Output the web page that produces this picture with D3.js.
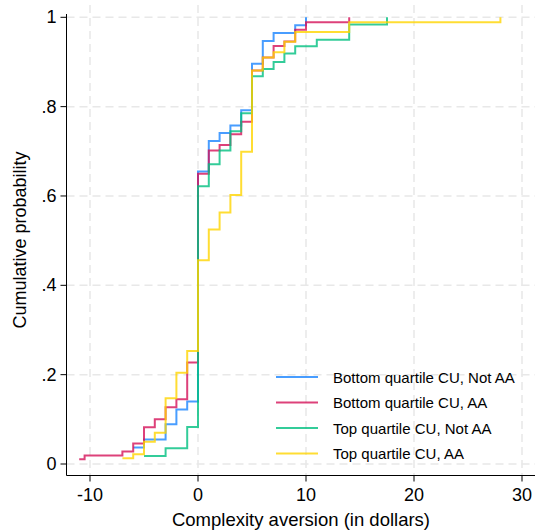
<!DOCTYPE html>
<html>
<head>
<meta charset="utf-8">
<script src="https://cdn.jsdelivr.net/npm/d3@7"></script>
<style>
  body { margin: 0; background: #fff; }
  #chart { width: 535px; height: 530px; }
  text { font-family: "Liberation Sans", Arial, Helvetica, sans-serif; fill: #000; }
</style>
</head>
<body>
<div id="chart"></div>
<script>

var seriesNames = ["Bottom quartile CU, Not AA", "Bottom quartile CU, AA", "Top quartile CU, Not AA", "Top quartile CU, AA"];

var bottomNotAA = [[-6, 0.037], [-5, 0.055], [-3, 0.089], [-2, 0.122], [-1, 0.14], [0, 0.655], [1, 0.723], [2, 0.741],
  [3, 0.758], [4, 0.792], [5, 0.896], [6, 0.947], [7, 0.965], [9, 0.982], [10, 1.0]];

var bottomAA = [[-11, 0.0105], [-10.5, 0.019], [-7, 0.028], [-6, 0.046], [-5, 0.082], [-4, 0.10], [-3, 0.127], [-2, 0.145],
  [-1, 0.227], [0, 0.650], [1, 0.702], [2, 0.714], [3, 0.738], [4, 0.766], [5, 0.881], [6, 0.910], [7, 0.936],
  [8, 0.946], [9, 0.972], [10, 0.989], [14, 1.0]];

var topNotAA = [[-5, 0.018], [-3, 0.035], [-1, 0.083], [0, 0.622], [1, 0.671], [2, 0.702], [3, 0.745], [4, 0.785],
  [5, 0.868], [6, 0.884], [7, 0.900], [8, 0.919], [9, 0.935], [11, 0.950], [14, 0.984], [17.5, 1.0]];

var topAA = [[-7, 0.0128], [-6, 0.0217], [-5, 0.050], [-4, 0.070], [-3, 0.147], [-2, 0.204], [-1, 0.253], [0, 0.456],
  [1, 0.525], [2, 0.563], [3, 0.602], [4, 0.699], [5, 0.881], [6, 0.910], [7, 0.922], [8, 0.945], [9, 0.967],
  [14, 0.989], [28, 1.0]];

var xTicks = [-10, 0, 10, 20, 30];
var yTicks = [0, 0.2, 0.4, 0.6, 0.8, 1];
var yTickLabels = ["0", ".2", ".4", ".6", ".8", "1"];

var allSeries = [bottomNotAA, bottomAA, topNotAA, topAA];
var colors = ["#1a85ff", "#d41159", "#00bf7f", "#ffd400"];

/*------Canvas------*/

var width = 535, height = 530;
var svg = d3.select("#chart")
      .append("svg")
      .attr("width", width)
      .attr("height", height);

var axisX = 66.5;   // left axis line
var axisY = 475.5;  // bottom axis line

var x = d3.scaleLinear().domain([-10, 30]).range([90, 522]);
var y = d3.scaleLinear().domain([0, 1]).range([464, 17.3]);

/*------Grid (dashed, light grey)------*/

svg.selectAll(".vgrid")
    .data(xTicks)
    .enter()
    .append("line")
      .attr("x1", function(d) { return x(d); })
      .attr("x2", function(d) { return x(d); })
      .attr("y1", 5)
      .attr("y2", axisY)
      .attr("stroke", "#e8e8e8")
      .attr("stroke-width", 1.5)
      .attr("stroke-dasharray", "8,5");

svg.selectAll(".hgrid")
    .data(yTicks)
    .enter()
    .append("line")
      .attr("x1", axisX)
      .attr("x2", width)
      .attr("y1", function(d) { return y(d); })
      .attr("y2", function(d) { return y(d); })
      .attr("stroke", "#e8e8e8")
      .attr("stroke-width", 1.5)
      .attr("stroke-dasharray", "8,5");

/*------Axes------*/

svg.append("line")
    .attr("x1", axisX).attr("x2", axisX)
    .attr("y1", 14).attr("y2", axisY)
    .attr("stroke", "#000").attr("stroke-width", 1);

svg.append("line")
    .attr("x1", axisX).attr("x2", width)
    .attr("y1", axisY).attr("y2", axisY)
    .attr("stroke", "#000").attr("stroke-width", 1);

svg.selectAll(".ytick")
    .data(yTicks)
    .enter()
    .append("line")
      .attr("x1", axisX - 6).attr("x2", axisX)
      .attr("y1", function(d) { return y(d); })
      .attr("y2", function(d) { return y(d); })
      .attr("stroke", "#000");

svg.selectAll(".ylab")
    .data(yTicks)
    .enter()
    .append("text")
      .attr("x", axisX - 10)
      .attr("y", function(d) { return y(d); })
      .attr("text-anchor", "end")
      .attr("dominant-baseline", "central")
      .style("font-size", "18px")
      .text(function(d, i) { return yTickLabels[i]; });

svg.selectAll(".xtick")
    .data(xTicks)
    .enter()
    .append("line")
      .attr("x1", function(d) { return x(d); })
      .attr("x2", function(d) { return x(d); })
      .attr("y1", axisY).attr("y2", axisY + 6)
      .attr("stroke", "#000");

svg.selectAll(".xlab")
    .data(xTicks)
    .enter()
    .append("text")
      .attr("x", function(d) { return x(d); })
      .attr("y", 501)
      .attr("text-anchor", "middle")
      .style("font-size", "18px")
      .text(function(d) { return d; });

svg.append("text")
    .attr("x", 301)
    .attr("y", 526)
    .attr("text-anchor", "middle")
    .style("font-size", "18.5px")
    .text("Complexity aversion (in dollars)");

svg.append("text")
    .attr("transform", "translate(26," + 240 + ") rotate(-90)")
    .attr("text-anchor", "middle")
    .style("font-size", "18px")
    .text("Cumulative probability");

/*------Step lines------*/

var line = d3.line()
    .x(function(d) { return x(d[0]); })
    .y(function(d) { return y(d[1]); })
    .curve(d3.curveStepAfter);

svg.selectAll(".cdf")
    .data(allSeries)
    .enter()
    .append("path")
      .attr("class", "cdf")
      .attr("d", line)
      .attr("fill", "none")
      .attr("stroke", function(d, i) { return colors[i]; })
      .attr("stroke-width", 2)
      .attr("stroke-opacity", 0.8);

/*------Legend------*/

var legend = svg.selectAll(".legend")
    .data(seriesNames)
    .enter()
    .append("g")
      .attr("transform", function(d, i) { return "translate(276," + (377 + i * 25.5) + ")"; });

legend.append("line")
    .attr("x1", 0).attr("x2", 42)
    .attr("stroke", function(d, i) { return colors[i]; })
    .attr("stroke-width", 2)
    .attr("stroke-opacity", 0.8);

legend.append("text")
    .attr("x", 57)
    .attr("dominant-baseline", "central")
    .style("font-size", "15px")
    .text(function(d) { return d; });

</script>
</body>
</html>
